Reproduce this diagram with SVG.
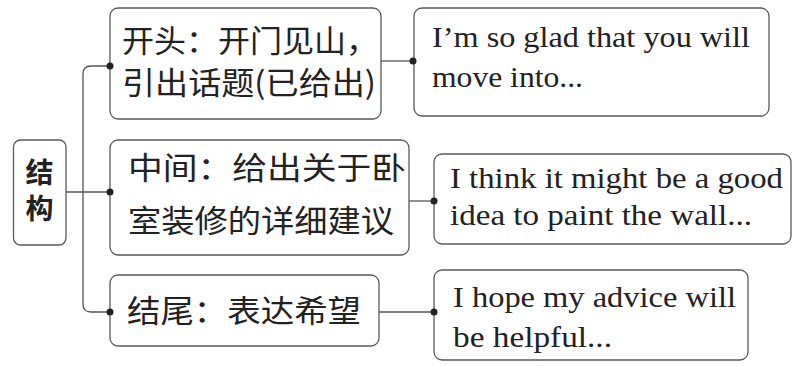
<svg xmlns="http://www.w3.org/2000/svg" width="803" height="366" viewBox="0 0 803 366">
<style>
.box{fill:#fff;stroke:#5a5a5a;stroke-width:1.3}
.zh{font-family:"Noto Sans CJK SC","Noto Sans",sans-serif;font-size:31px;fill:#222}
.root{font-family:"Noto Sans CJK SC","Noto Sans",sans-serif;font-size:28px;font-weight:bold;fill:#222;writing-mode:vertical-rl;letter-spacing:8px}
.en{font-family:"Liberation Serif",serif;font-size:30px;fill:#222}
.ln{fill:none;stroke:#555;stroke-width:1.3}
.dot{fill:#222}
</style>
<rect width="803" height="366" fill="#fff"/>
<g id="root">
<rect class="box" x="13.5" y="140" width="52.5" height="105" rx="7"/>
<text class="root" x="39.5" y="158">结构</text>
</g>
<g id="opening">
<rect class="box" x="110" y="8" width="271" height="111" rx="8"/>
<text class="zh" x="122" y="52" textLength="256" lengthAdjust="spacingAndGlyphs">开头：开门见山，</text>
<text class="zh" x="122" y="94" textLength="254" lengthAdjust="spacingAndGlyphs">引出话题(已给出)</text>
</g>
<g id="middle">
<rect class="box" x="110" y="140" width="299" height="115" rx="8"/>
<text class="zh" x="128" y="179" textLength="278" lengthAdjust="spacingAndGlyphs">中间：给出关于卧</text>
<text class="zh" x="128" y="232" textLength="266" lengthAdjust="spacingAndGlyphs">室装修的详细建议</text>
</g>
<g id="ending">
<rect class="box" x="110" y="275" width="269" height="71" rx="8"/>
<text class="zh" x="127" y="322" textLength="234" lengthAdjust="spacingAndGlyphs">结尾：表达希望</text>
</g>
<g id="example1">
<rect class="box" x="414" y="8" width="355" height="108" rx="8"/>
<text class="en" x="432" y="47" textLength="318" lengthAdjust="spacingAndGlyphs">I’m so glad that you will</text>
<text class="en" x="432" y="87" textLength="151" lengthAdjust="spacingAndGlyphs">move into...</text>
</g>
<g id="example2">
<rect class="box" x="434" y="154" width="357" height="90" rx="8"/>
<text class="en" x="450" y="188" textLength="333" lengthAdjust="spacingAndGlyphs">I think it might be a good</text>
<text class="en" x="450" y="225" textLength="302" lengthAdjust="spacingAndGlyphs">idea to paint the wall...</text>
</g>
<g id="example3">
<rect class="box" x="434" y="270" width="314" height="90" rx="8"/>
<text class="en" x="453" y="307" textLength="283" lengthAdjust="spacingAndGlyphs">I hope my advice will</text>
<text class="en" x="453" y="347" textLength="159" lengthAdjust="spacingAndGlyphs">be helpful...</text>
</g>
<g id="connectors">
<path class="ln" d="M110,66 H91 Q83,66 83,74 V304 Q83,312 91,312 H110"/>
<path class="ln" d="M66,192 H110"/>
<path class="ln" d="M381,61 H413"/>
<path class="ln" d="M409,201 H434"/>
<path class="ln" d="M379,312 H434"/>
<circle class="dot" cx="110" cy="66" r="3.5"/>
<circle class="dot" cx="110" cy="192" r="3.5"/>
<circle class="dot" cx="110" cy="312" r="3.5"/>
<circle class="dot" cx="413" cy="61" r="3.5"/>
<circle class="dot" cx="434" cy="201" r="3.5"/>
<circle class="dot" cx="434" cy="312" r="3.5"/>
</g>
</svg>
